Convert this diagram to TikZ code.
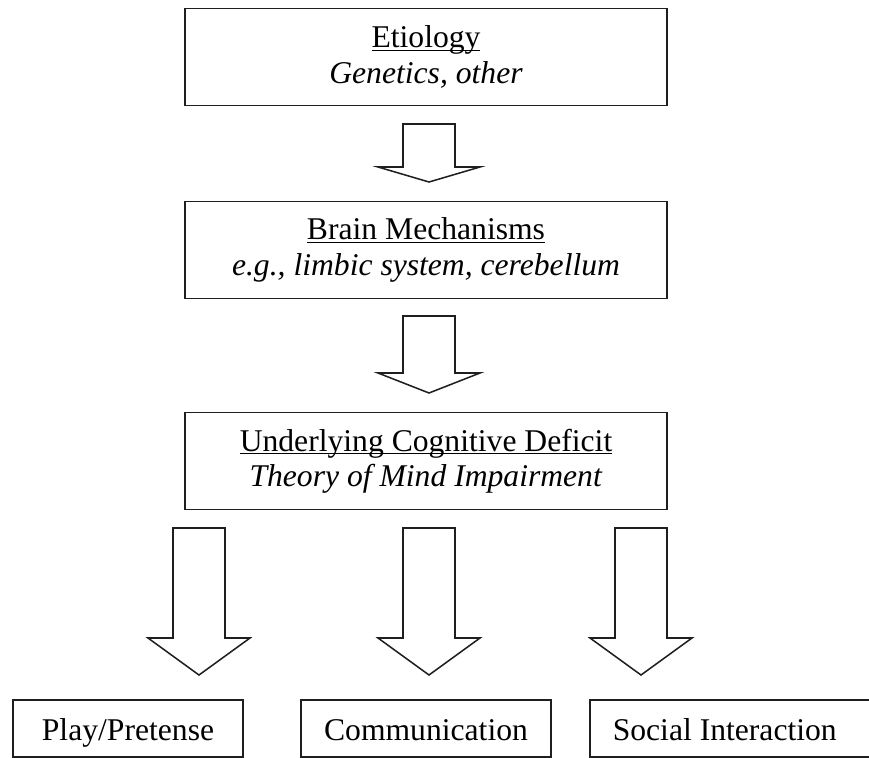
\documentclass[tikz,border=0pt]{standalone}
\usepackage{fontspec}
\setmainfont{Liberation Serif}
\usepackage{tikz}
\usetikzlibrary{positioning}
\definecolor{BoxInk}{gray}{0.12}
% underlined heading, rule just below the baseline
\newcommand{\Heading}[1]{\setbox0\hbox{#1}\rlap{\rule[-2.8pt]{\wd0}{1.2pt}}\box0}
% hollow block arrow: centre x, shaft top, head base, tip
\newcommand{\HollowArrow}[4]{%
  \draw[hollow] (#1-26,#2) -- (#1+26,#2) -- (#1+26,#3) -- (#1+51,#3)
    -- (#1,#4) -- (#1-51,#3) -- (#1-26,#3) -- cycle;}
\tikzset{
  figure/.style={x=0.03cm,y=-0.03cm,font=\fontsize{27}{30}\selectfont},
  stage/.style={draw=BoxInk,line width=1.3pt,align=center,inner sep=0pt,
    minimum width=14.46cm,minimum height=2.9cm},
  outcome/.style={draw=BoxInk,line width=1.3pt,inner sep=0pt,minimum height=1.71cm,
    text height=26pt,text depth=5pt},
  hollow/.style={draw=BoxInk,line width=1.3pt,fill=white,line join=miter},
}
\begin{document}
\begin{tikzpicture}[figure]
  \useasboundingbox (0,0) rectangle (869,758);
  \clip (0,0) rectangle (869,758);

  \node[stage] (etiology) at (426,57) {\Heading{Etiology}\\\textit{Genetics, other}};
  \node[stage] (brain) at (426,250) {\Heading{Brain Mechanisms}\\\textit{e.g., limbic system, cerebellum}};
  \node[stage] (deficit) at (426,461) {\Heading{Underlying Cognitive Deficit}\\\textit{Theory of Mind Impairment}};

  \HollowArrow{429}{124}{167}{182}
  \HollowArrow{429}{316}{373}{393}
  \foreach \x in {199,429,641} {\HollowArrow{\x}{528}{638}{675}}

  \node[outcome,minimum width=6.9cm] (play) at (128,728.5) {Play/Pretense};
  \node[outcome,minimum width=7.5cm] (comm) at (426,728.5) {Communication};
  \node[outcome,anchor=west,minimum width=8.73cm] (social) at (589,728.5)
    {\makebox[7.35cm][l]{Social Interaction}};
\end{tikzpicture}
\end{document}
